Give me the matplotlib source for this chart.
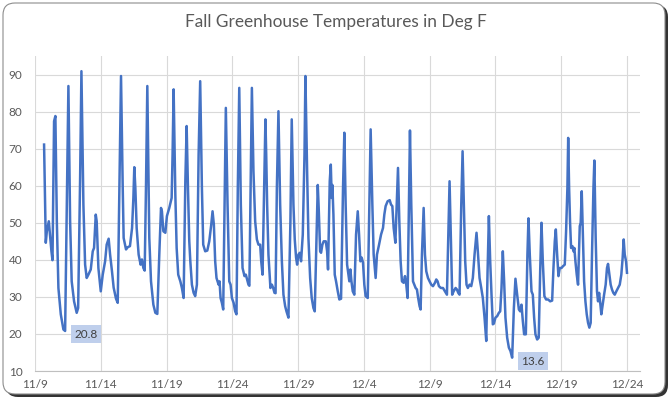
import matplotlib
matplotlib.use("Agg")
import matplotlib.pyplot as plt
from matplotlib.patches import FancyBboxPatch

# time in days after 11/9 00:00, temperature in deg F
day_offset = [
    0.69, 0.82, 0.90, 1.05, 1.15, 1.25, 1.33, 1.45, 1.55, 1.66, 1.78, 1.96, 2.16, 2.29,
    2.42, 2.54, 2.67, 2.79, 2.97, 3.17, 3.28, 3.43, 3.53, 3.68, 3.81, 3.93, 4.06, 4.24,
    4.39, 4.49, 4.62, 4.69, 4.82, 5.00, 5.15, 5.33, 5.45, 5.60, 5.71, 5.85, 5.98, 6.16,
    6.29, 6.54, 6.67, 6.74, 6.92, 7.05, 7.22, 7.38, 7.48, 7.55, 7.63, 7.73, 7.88, 8.03,
    8.13, 8.24, 8.34, 8.44, 8.54, 8.69, 8.82, 9.00, 9.15, 9.30, 9.45, 9.58, 9.65, 9.76,
    9.91, 10.03, 10.21, 10.39, 10.46, 10.54, 10.67, 10.77, 10.89, 11.05, 11.17, 11.30,
    11.43, 11.53, 11.63, 11.73, 11.81, 11.93, 12.06, 12.18, 12.31, 12.44, 12.56, 12.69,
    12.79, 12.94, 13.10, 13.25, 13.40, 13.50, 13.60, 13.70, 13.80, 13.96, 14.03, 14.11,
    14.21, 14.31, 14.41, 14.51, 14.64, 14.77, 14.87, 14.97, 15.10, 15.22, 15.32, 15.42,
    15.53, 15.65, 15.78, 15.93, 16.03, 16.13, 16.23, 16.30, 16.41, 16.49, 16.61, 16.74,
    16.87, 16.99, 17.12, 17.20, 17.30, 17.40, 17.52, 17.58, 17.65, 17.75, 17.90, 18.01,
    18.11, 18.21, 18.29, 18.39, 18.51, 18.64, 18.77, 18.89, 19.02, 19.12, 19.27, 19.42,
    19.52, 19.65, 19.75, 19.85, 19.93, 20.03, 20.13, 20.23, 20.36, 20.49, 20.56, 20.69,
    20.79, 20.92, 21.04, 21.17, 21.27, 21.40, 21.50, 21.57, 21.68, 21.75, 21.85, 21.95,
    22.11, 22.21, 22.28, 22.41, 22.49, 22.56, 22.61, 22.69, 22.79, 22.89, 23.02, 23.14,
    23.27, 23.42, 23.52, 23.62, 23.73, 23.83, 23.90, 23.98, 24.06, 24.16, 24.28, 24.41,
    24.54, 24.64, 24.74, 24.84, 24.94, 25.04, 25.14, 25.30, 25.42, 25.52, 25.65, 25.75,
    25.90, 26.00, 26.16, 26.31, 26.46, 26.56, 26.66, 26.81, 26.97, 27.07, 27.17, 27.27,
    27.40, 27.50, 27.60, 27.70, 27.80, 27.90, 28.03, 28.13, 28.23, 28.33, 28.43, 28.51,
    28.61, 28.74, 28.84, 28.94, 29.04, 29.12, 29.24, 29.32, 29.42, 29.55, 29.65, 29.75,
    29.88, 30.00, 30.13, 30.26, 30.41, 30.51, 30.61, 30.71, 30.86, 31.02, 31.17, 31.32,
    31.42, 31.52, 31.62, 31.72, 31.83, 31.98, 32.08, 32.18, 32.28, 32.41, 32.51, 32.61,
    32.71, 32.81, 32.91, 33.04, 33.17, 33.29, 33.42, 33.57, 33.67, 33.80, 33.93, 34.05,
    34.18, 34.31, 34.41, 34.51, 34.61, 34.71, 34.81, 34.89, 35.01, 35.14, 35.27, 35.37,
    35.47, 35.57, 35.67, 35.77, 35.90, 36.03, 36.15, 36.28, 36.41, 36.53, 36.66, 36.79,
    36.89, 36.99, 37.09, 37.19, 37.32, 37.44, 37.52, 37.62, 37.75, 37.85, 37.95, 38.05,
    38.18, 38.30, 38.41, 38.51, 38.61, 38.73, 38.86, 39.01, 39.17, 39.32, 39.42, 39.52,
    39.60, 39.70, 39.80, 39.90, 40.03, 40.15, 40.28, 40.38, 40.48, 40.54, 40.61, 40.68,
    40.76, 40.86, 40.94, 41.01, 41.09, 41.19, 41.29, 41.42, 41.49, 41.57, 41.65, 41.75,
    41.85, 41.95, 42.05, 42.15, 42.25, 42.35, 42.46, 42.53, 42.63, 42.73, 42.81, 42.89,
    42.99, 43.06, 43.16, 43.27, 43.39, 43.49, 43.57, 43.67, 43.77, 43.87, 43.97, 44.08,
    44.20, 44.33, 44.46, 44.58, 44.68, 44.76, 44.84, 44.94, 45.01,
]
temp_f = [
    71.1, 44.6, 47.7, 50.4, 46.4, 42.3, 39.9, 77.4, 78.8, 50.4, 32.4, 25.3, 21.2, 20.8,
    55.0, 86.9, 50.4, 34.2, 28.8, 25.7, 27.0, 62.0, 90.9, 54.9, 38.7, 35.1, 36.0, 37.4,
    42.3, 43.2, 52.2, 50.4, 37.8, 31.5, 36.0, 39.6, 44.1, 45.7, 41.4, 37.0, 32.5, 29.5,
    28.4, 89.6, 59.4, 45.9, 42.8, 43.4, 43.7, 48.6, 56.7, 65.0, 59.4, 48.6, 41.4, 38.7,
    40.1, 37.8, 37.1, 60.0, 86.9, 45.9, 34.2, 27.9, 25.7, 25.4, 41.4, 54.0, 53.1, 47.7,
    47.3, 51.8, 54.0, 56.7, 68.4, 86.0, 57.6, 43.2, 36.0, 34.2, 32.4, 29.7,
    61.2, 76.1, 59.4, 45.0, 39.6, 33.3, 31.1, 30.2, 33.3, 68.4, 88.2, 59.4,
    44.1, 42.3, 42.5, 45.0, 49.5, 53.1, 49.5, 39.6, 35.1, 33.3, 34.2, 29.7,
    28.4, 26.6, 54.9, 81.0, 54.9, 34.2, 33.3, 29.7, 28.4, 26.1, 25.3, 59.4,
    86.4, 54.9, 37.8, 35.6, 36.0, 34.7, 33.3, 33.0, 63.9, 86.4, 63.9, 50.4,
    45.5, 44.1, 44.1, 39.6, 36.0, 54.9, 77.9, 68.4, 54.9, 41.4, 32.4, 33.3,
    32.4, 31.1, 31.0, 59.4, 80.1, 54.9, 39.6, 30.6, 27.5, 26.1, 24.4, 50.4,
    77.9, 54.9, 45.5, 40.6, 38.7, 41.4, 41.9, 39.6, 46.8, 68.4, 89.6, 63.9,
    45.9, 35.1, 29.7, 27.0, 26.1, 45.9, 60.2, 54.0, 42.3, 41.9, 44.1, 45.0,
    45.0, 42.3, 37.4, 61.2, 65.7, 56.7, 60.2, 52.2, 36.0, 34.2, 31.5, 29.3,
    29.5, 59.4, 74.3, 54.9, 38.7, 36.0, 34.2, 37.4, 34.2, 31.5, 30.6, 46.8,
    53.1, 46.8, 39.6, 40.6, 39.2, 33.3, 30.2, 29.7, 54.9, 75.2, 54.9, 41.4,
    35.1, 41.4, 44.1, 46.8, 48.6, 52.2, 54.5, 55.8, 56.1, 54.9, 54.5, 48.6,
    44.6, 54.9, 64.8, 50.4, 39.6, 34.2, 33.8, 35.6, 33.3, 29.7, 54.9, 74.9,
    54.9, 34.2, 33.3, 32.4, 32.0, 30.0, 27.5, 26.6, 41.4, 54.0, 41.4, 36.9,
    35.1, 34.2, 33.3, 32.9, 33.8, 34.7, 34.2, 32.9, 32.4, 32.4, 31.5, 30.6,
    45.9, 61.2, 45.9, 30.6, 31.5, 32.4, 32.0, 31.1, 30.6, 54.9, 69.3, 54.9,
    39.6, 33.3, 32.4, 33.3, 32.9, 35.1, 41.4, 47.3, 42.3, 35.1, 32.4, 29.7,
    24.4, 18.1, 36.9, 51.8, 39.6, 30.6, 22.6, 22.8, 24.4, 24.8, 25.7, 26.1,
    32.4, 42.3, 34.2, 24.4, 19.0, 16.3, 15.4, 13.6, 27.0, 34.9, 30.6, 26.6,
    26.1, 27.9, 23.5, 19.9, 19.9, 41.4, 51.2, 41.4, 31.5, 30.6, 24.4, 19.9,
    18.5, 19.0, 36.9, 50.0, 39.6, 30.2, 29.3, 29.3, 28.8, 29.0, 37.8, 45.0,
    48.2, 41.4, 35.6, 37.8, 37.8, 38.3, 38.7, 47.7, 59.4, 72.9, 59.4, 50.4,
    43.2, 43.7, 42.3, 43.2, 39.6, 36.0, 33.3, 49.1, 50.0, 58.5, 47.7, 34.2,
    28.8, 25.3, 23.0, 21.7, 23.0, 41.4, 59.4, 66.8, 45.9, 31.5, 28.8, 31.1,
    27.9, 25.3, 27.9, 30.6, 33.3, 37.8, 38.9, 36.0, 33.3, 32.0, 31.1, 30.6,
    31.5, 32.4, 33.3, 36.0, 40.5, 45.5, 41.4, 39.6, 36.5,
]
labeled_values = [20.8, 13.6]

tick_days = [0, 5, 10, 15, 20, 25, 30, 35, 40, 45]
tick_labels = ["11/9", "11/14", "11/19", "11/24", "11/29",
               "12/4", "12/9", "12/14", "12/19", "12/24"]
y_ticks = [10, 20, 30, 40, 50, 60, 70, 80, 90]

font = "Lato"
grey = "#595959"

fig = plt.figure(figsize=(6.72, 4.0), dpi=100)

# chart frame with a shadow
shadow = FancyBboxPatch((0.06, 0.03), 6.62, 3.92, boxstyle="round,pad=0,rounding_size=0.12",
                        transform=fig.dpi_scale_trans, fc="#333333", ec="none", zorder=-2)
frame = FancyBboxPatch((0.03, 0.06), 6.62, 3.91, boxstyle="round,pad=0,rounding_size=0.12",
                       transform=fig.dpi_scale_trans, fc="white", ec="#8c8c8c", lw=0.8, zorder=-1)
fig.patches.extend([shadow, frame])

ax = fig.add_axes([35 / 672, 29 / 400, 605 / 672, 315 / 400])
ax.set_zorder(2)
ax.set_facecolor("none")
ax.plot(day_offset, temp_f, color="#4472c4", lw=1.8, zorder=3, solid_joinstyle="round")

ax.set_xlim(0, 46)
ax.set_ylim(10, 95)
ax.set_xticks(tick_days)
ax.set_xticklabels(tick_labels)
ax.set_yticks(y_ticks)
ax.grid(True, color="#d9d9d9", lw=0.8, zorder=0)
for s in ["top", "right", "left"]:
    ax.spines[s].set_visible(False)
ax.spines["bottom"].set_color("#bfbfbf")
ax.spines["bottom"].set_linewidth(0.8)
ax.tick_params(length=0, labelsize=8.5, labelcolor=grey)
ax.tick_params(axis="y", pad=9)
ax.tick_params(axis="x", pad=6)
for lab in ax.get_xticklabels() + ax.get_yticklabels():
    lab.set_fontfamily(font)

# data labels on the two lows
for v in labeled_values:
    i = temp_f.index(v)
    ax.annotate(f"{v}", (day_offset[i], v), xytext=(6.5, -2.5), textcoords="offset points",
                ha="left", va="center", fontsize=8.5, color="#404040", family=font,
                bbox=dict(boxstyle="square,pad=0.3", fc="#bfcfec", ec="none"), zorder=4)

fig.text(0.5, 1 - 22 / 400, "Fall Greenhouse Temperatures in Deg F", ha="center", va="center",
         fontsize=12.4, color=grey, family=font)

fig.savefig("out.png", dpi=100)
